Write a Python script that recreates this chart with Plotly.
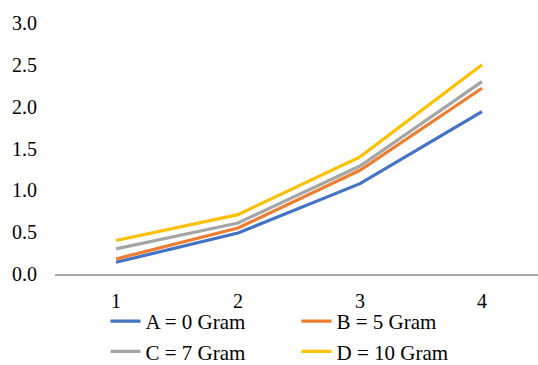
import plotly.graph_objects as go

categories = [1, 2, 3, 4]
series_names = ["A = 0 Gram", "B = 5 Gram", "C = 7 Gram", "D = 10 Gram"]
values_a = [0.14, 0.49, 1.08, 1.94]
values_b = [0.18, 0.55, 1.24, 2.22]
values_c = [0.30, 0.61, 1.29, 2.30]
values_d = [0.40, 0.71, 1.40, 2.50]
colors = ["#4472C4", "#ED7D31", "#A5A5A5", "#FFC000"]
y_ticks = [0, 0.5, 1.0, 1.5, 2.0, 2.5, 3.0]
y_labels = ["0.0", "0.5", "1.0", "1.5", "2.0", "2.5", "3.0"]

font = dict(family="Liberation Serif", size=20, color="#000000")
legend_font = dict(family="Liberation Serif", size=21, color="#000000")

fig = go.Figure()
for name, vals, col in zip(series_names, [values_a, values_b, values_c, values_d], colors):
    fig.add_trace(go.Scatter(x=categories, y=vals, mode="lines", name=name,
                             line=dict(color=col, width=3.2)))

fig.update_layout(
    width=538, height=365,
    margin=dict(l=55, r=0, t=23, b=91, autoexpand=False),
    paper_bgcolor="white", plot_bgcolor="white",
    font=font,
    showlegend=True,
    legend=dict(orientation="h", x=0.5, xanchor="center", y=-0.39, yanchor="bottom",
                entrywidth=146, entrywidthmode="pixels", font=legend_font,
                tracegroupgap=0, bgcolor="rgba(0,0,0,0)"),
    xaxis=dict(range=[0.5, 4.459], tickmode="array", tickvals=categories,
               ticktext=[str(c) for c in categories],
               showgrid=False, zeroline=False, showline=True, linecolor="#A6A6A6",
               linewidth=1.5, ticks="", ticklabelstandoff=8),
    yaxis=dict(range=[0, 3.0], tickmode="array", tickvals=y_ticks, ticktext=y_labels,
               showgrid=False, zeroline=False, showline=False, ticks="",
               ticklabelstandoff=17),
)

fig.write_html("out.html")
